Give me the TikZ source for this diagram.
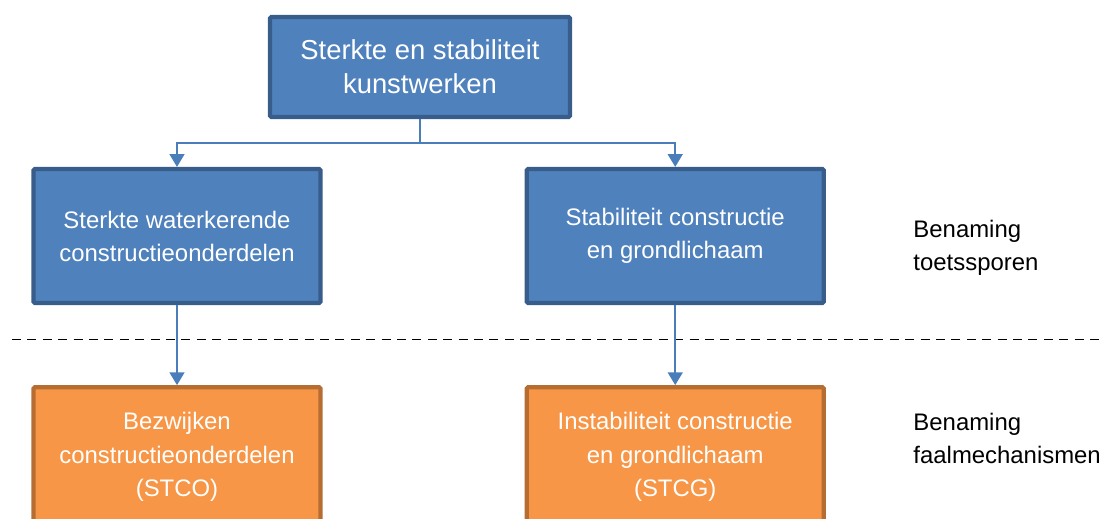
\documentclass[tikz,border=0pt]{standalone}
\usepackage{fontspec}
\setmainfont{Liberation Sans}
\usetikzlibrary{arrows.meta,positioning}
\definecolor{boxblue}{HTML}{4F81BD}
\definecolor{boxblueedge}{HTML}{385D8A}
\definecolor{boxorange}{HTML}{F79646}
\definecolor{boxorangeedge}{HTML}{B66D31}
\definecolor{linkblue}{HTML}{4A7EBB}
\tikzset{
  bluenode/.style={draw=boxblueedge, fill=boxblue, line width=3pt, rounded corners=1pt, text=white, align=center, inner sep=0pt, font=\fontsize{17}{23.5}\selectfont},
  orangenode/.style={draw=boxorangeedge, fill=boxorange, line width=3pt, rounded corners=1pt, text=white, align=center, inner sep=0pt, font=\fontsize{17}{23.8}\selectfont},
  link/.style={linkblue, line width=1.2pt},
  linkarrow/.style={link, -{Triangle[width=10.5pt, length=9pt]}},
  levelline/.style={black, line width=0.9pt, dash pattern=on 0.225cm off 0.16cm},
  labelnode/.style={anchor=west, align=left, inner sep=0pt, font=\fontsize{17}{23.5}\selectfont}
}
\begin{document}
\begin{tikzpicture}
  \useasboundingbox (0,0) rectangle (27.55,-12.95);
  \clip (0,0) rectangle (27.55,-12.95);
  % level separator
  \draw[levelline] (0.3,-8.48) -- (27.5,-8.48);
  % boxes
  \node[bluenode, minimum width=7.5cm, minimum height=2.5cm, font=\fontsize{19.5}{24.2}\selectfont] (kunstwerken) at (10.5,-1.675) {Sterkte en stabiliteit\\kunstwerken};
  \node[bluenode, minimum width=7.175cm, minimum height=3.35cm] (sterkte) at (4.425,-5.9) {Sterkte waterkerende\\constructieonderdelen};
  \node[bluenode, minimum width=7.425cm, minimum height=3.35cm, right=5.05cm of sterkte] (stabiliteit) {Stabiliteit constructie\\en grondlichaam};
  \node[orangenode, minimum width=7.175cm, minimum height=3.5cm, below=2.0cm of sterkte] (stco) {Bezwijken\\constructieonderdelen\\(STCO)};
  \node[orangenode, minimum width=7.425cm, minimum height=3.5cm, below=2.0cm of stabiliteit] (stcg) {Instabiliteit constructie\\en grondlichaam\\(STCG)};
  % level names
  \node[labelnode] (toetssporen) at (22.83,-6.2) {Benaming\\toetssporen};
  \node[labelnode] (faalmech) at (22.83,-10.95) {Benaming\\faalmechanismen};
  % connectors
  \coordinate[below=0.6cm of kunstwerken] (split);
  \draw[linkarrow] (kunstwerken.south) -- (split) -| (sterkte.north);
  \draw[linkarrow] (kunstwerken.south) -- (split) -| (stabiliteit.north);
  \draw[linkarrow] (sterkte) -- (stco);
  \draw[linkarrow] (stabiliteit) -- (stcg);
\end{tikzpicture}
\end{document}
